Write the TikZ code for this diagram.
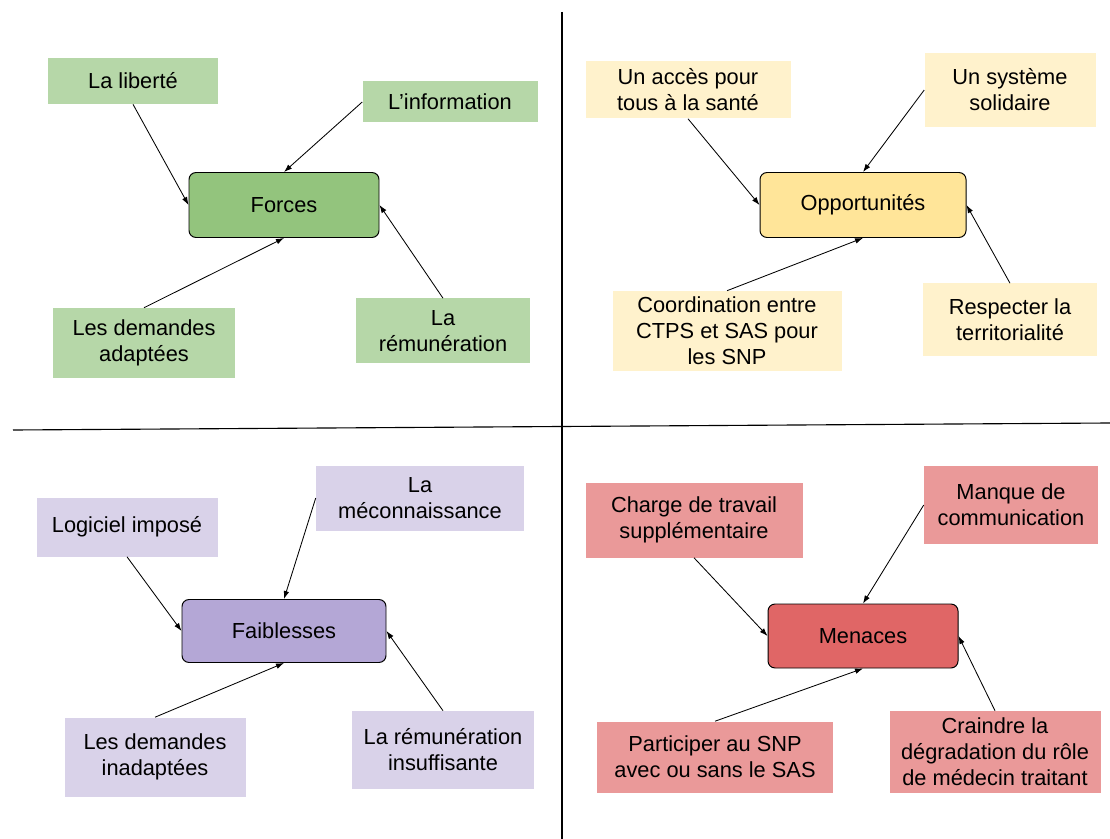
\documentclass[tikz,border=0pt]{standalone}
\usepackage{fontspec}
\setmainfont{Liberation Sans}
\usetikzlibrary{arrows.meta}
\definecolor{fgreen}{HTML}{93C47D}
\definecolor{lgreen}{HTML}{B6D7A8}
\definecolor{fyellow}{HTML}{FFE599}
\definecolor{lyellow}{HTML}{FFF2CC}
\definecolor{fpurple}{HTML}{B4A7D6}
\definecolor{lpurple}{HTML}{D9D2E9}
\definecolor{fred}{HTML}{E06666}
\definecolor{lred}{HTML}{EA9999}

\begin{document}
\begin{tikzpicture}[x=0.025cm,y=-0.025cm,
	item/.style={inner sep=0pt,align=center,font=\fontsize{15.5}{18.5}\selectfont},
	hub/.style={item,draw,rounded corners=5pt,line width=0.7pt},
	wh/.style 2 args={minimum width=#1*0.025cm,minimum height=#2*0.025cm},
	link/.style={-{Latex[length=2mm,width=1.4mm]},line width=0.6pt}]
	\useasboundingbox (0,0) rectangle (1110,839);
	% quadrants
	\draw[line width=0.8pt] (562,12) -- (562,839);
	\draw[line width=0.8pt] (13,430) -- (1110,423);
	% forces
	\draw (284,205) node[hub,fill=fgreen,wh={190}{65}] (F) {Forces}
	(133,81) node[item,fill=lgreen,wh={170}{46}] (F1) {La liberté}
	(450,102) node[item,fill=lgreen,wh={175}{41}] (F2) {L’information}
	(144,343) node[item,fill=lgreen,wh={182}{70}] (F3) {Les demandes\\adaptées}
	(443,331) node[item,fill=lgreen,wh={174}{65}] (F4) {La\\rémunération};
	\draw[link] (F1.south) -- (F.west);
	\draw[link] (F2.west) -- (F.north);
	\draw[link] (F3.north) -- (F.south);
	\draw[link] (F4.north) -- (F.east);
	% opportunites
	\draw (863,205) node[hub,fill=fyellow,wh={206}{65}] (O) {Opportunités}
	(688,90) node[item,fill=lyellow,wh={205}{57}] (O1) {Un accès pour\\tous à la santé}
	(1010,90) node[item,fill=lyellow,wh={171}{74}] (O2) {Un système\\solidaire}
	(727,331) node[item,fill=lyellow,wh={229}{80}] (O3) {Coordination entre\\CTPS et SAS pour\\les SNP}
	(1010,320) node[item,fill=lyellow,wh={174}{73}] (O4) {Respecter la\\territorialité};
	\draw[link] (O1.south) -- (O.west);
	\draw[link] (O2.west) -- (O.north);
	\draw[link] (O3.north) -- (O.south);
	\draw[link] (O4.north) -- (O.east);
	% faiblesses
	\draw (284,631) node[hub,fill=fpurple,wh={204}{63}] (W) {Faiblesses}
	(127,527) node[item,fill=lpurple,wh={181}{59}] (W1) {Logiciel imposé}
	(420,498) node[item,fill=lpurple,wh={208}{65}] (W2) {La\\méconnaissance}
	(155,757) node[item,fill=lpurple,wh={181}{79}] (W3) {Les demandes\\inadaptées}
	(443,750) node[item,fill=lpurple,wh={182}{78}] (W4) {La rémunération\\insuffisante};
	\draw[link] (W1.south) -- (W.west);
	\draw[link] (W2.west) -- (W.north);
	\draw[link] (W3.north) -- (W.south);
	\draw[link] (W4.north) -- (W.east);
	% menaces
	\draw (863,636) node[hub,fill=fred,wh={190}{64}] (M) {Menaces}
	(694,520) node[item,fill=lred,wh={217}{75}] (M1) {Charge de travail\\supplémentaire}
	(1011,505) node[item,fill=lred,wh={174}{78}] (M2) {Manque de\\communication}
	(715,757) node[item,fill=lred,wh={236}{71}] (M3) {Participer au SNP\\avec ou sans le SAS}
	(995,752) node[item,fill=lred,wh={211}{82}] (M4) {Craindre la\\dégradation du rôle\\de médecin traitant};
	\draw[link] (M1.south) -- (M.west);
	\draw[link] (M2.west) -- (M.north);
	\draw[link] (M3.north) -- (M.south);
	\draw[link] (M4.north) -- (M.east);
\end{tikzpicture}
\end{document}
